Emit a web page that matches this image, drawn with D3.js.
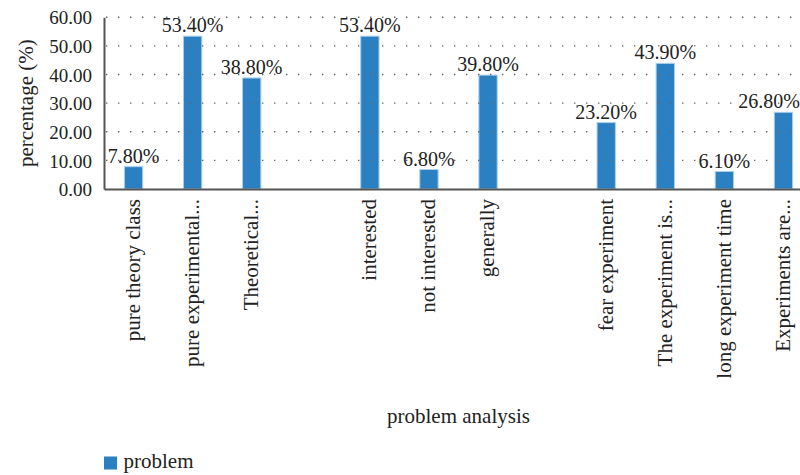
<!DOCTYPE html>
<html><head><meta charset="utf-8">
<script src="https://cdn.jsdelivr.net/npm/d3@7"></script>
<style>body{margin:0;background:#fff;} text{font-family:"Liberation Serif","Times New Roman",serif;fill:#222;}</style>
</head><body>
<svg id="c" width="800" height="475"></svg>
<script>
const categories = ["pure theory class","pure experimental...","Theoretical...","",
  "interested","not interested","generally","",
  "fear experiment","The experiment is...","long experiment time","Experiments are..."];
const values = [7.8,53.4,38.8,null,53.4,6.8,39.8,null,23.2,43.9,6.1,26.8];
const yTicks = [0,10,20,30,40,50,60];
const seriesName = "problem";

(function(){
const svg = d3.select("#c");
const W = 800;
const mL = 104, mR = 813, mT = 17.3, mB = 189;
const x = d3.scaleBand().domain(d3.range(categories.length)).range([mL,mR]).padding(0);
const y = d3.scaleLinear().domain([0,60]).range([mB,mT]);
const bw = x.bandwidth()*0.31;
const fsNum = 19, fsVal = 20, fsLab = 21, fsTitle = 21;

const pts = values.map((v,i)=>({v,i})).filter(d=>d.v!=null);

// bars
svg.append("g").selectAll("rect").data(pts)
  .join("rect")
  .attr("x",d=>x(d.i)+x.bandwidth()/2-bw/2)
  .attr("y",d=>y(d.v))
  .attr("width",bw)
  .attr("height",d=>y(0)-y(d.v))
  .attr("fill","#2b80c1").attr("stroke","#a9cfee").attr("stroke-width",1);

// gridlines (drawn over bars)
svg.append("g").selectAll("line").data(yTicks.filter(t=>t>0)).join("line")
  .attr("x1",mL+2).attr("x2",W).attr("y1",d=>y(d)).attr("y2",d=>y(d))
  .attr("stroke","#666").attr("stroke-width",1.4).attr("stroke-dasharray","1.4,10.6");

// y axis
const ya = svg.append("g").attr("transform",`translate(${mL},0)`).call(d3.axisLeft(y).tickValues(yTicks).tickSize(0).tickPadding(12).tickFormat(d3.format(".2f")));
ya.select(".domain").attr("stroke","#555").attr("stroke-width",2);
ya.selectAll("text").attr("font-size",fsNum).attr("font-family",null).attr("dy","0.35em");

// x axis
const xa = svg.append("g").attr("transform",`translate(0,${mB})`).call(d3.axisBottom(x).tickSize(0).tickFormat(i=>categories[i]));
xa.select(".domain").attr("stroke","#555").attr("stroke-width",2.2);
xa.selectAll("text").attr("font-size",fsLab).attr("font-family",null)
  .attr("text-anchor","end")
  .attr("transform","rotate(-90)")
  .attr("x",-10).attr("y",0).attr("dy","0.3em").attr("dx",0);

// value labels (kept inside the visible width)
const vl = svg.append("g").selectAll("text").data(pts).join("text")
  .attr("y",d=>y(d.v)-4)
  .attr("text-anchor","middle").attr("font-size",fsVal)
  .text(d=>d.v.toFixed(2)+"%");
vl.attr("x",function(d){
  const cx = x(d.i)+x.bandwidth()/2;
  const w = this.getComputedTextLength();
  return Math.min(cx, W - w/2);
});

// axis titles
svg.append("text").attr("transform",`translate(33,${(mT+mB)/2}) rotate(-90)`)
  .attr("text-anchor","middle").attr("font-size",fsTitle).text("percentage (%)");
svg.append("text").attr("x",(mL+mR)/2).attr("y",423).attr("text-anchor","middle").attr("font-size",fsTitle).text("problem analysis");

// legend
svg.append("rect").attr("x",104).attr("y",456.5).attr("width",13).attr("height",13).attr("fill","#2b80c1");
svg.append("text").attr("x",123.5).attr("y",468).attr("font-size",fsTitle).text(seriesName);
})();
</script>
</body></html>
